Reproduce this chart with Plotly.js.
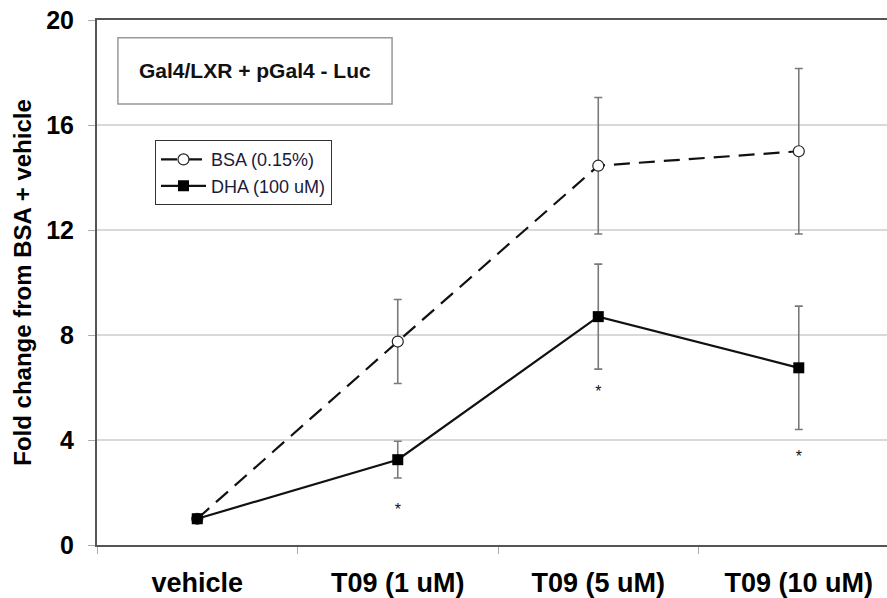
<!DOCTYPE html>
<html>
<head>
<meta charset="utf-8">
<script src="https://cdn.plot.ly/plotly-3.0.1.min.js"></script>
<style>html,body{margin:0;padding:0;background:#fff;}#chart{width:887px;height:598px;}</style>
</head>
<body>
<div id="chart"></div>
<script>
const categories = ["vehicle", "T09 (1 uM)", "T09 (5 uM)", "T09 (10 uM)"];
const bsaValues = [1.0, 7.75, 14.45, 15.0];
const bsaErrors = [0, 1.6, 2.6, 3.15];
const dhaValues = [1.0, 3.25, 8.7, 6.75];
const dhaErrors = [0, 0.7, 2.0, 2.35];
const sigY = [null, 1.3, 5.8, 3.3];
const sigText = ["", "*", "*", "*"];
const yTicks = [0, 4, 8, 12, 16, 20];

const FONT = "Arial, 'Liberation Sans', sans-serif";

const traces = [
  {
    x: categories, y: bsaValues, name: "BSA (0.15%)", type: "scatter", mode: "lines+markers",
    line: {color: "#111", width: 2.2, dash: "16px,9px"},
    marker: {symbol: "circle", size: 11, color: "#fff", line: {color: "#222", width: 1.2}},
    error_y: {type: "data", array: bsaErrors, visible: true, color: "#7a7a7a", thickness: 1.6, width: 4}
  },
  {
    x: categories, y: dhaValues, name: "DHA (100 uM)", type: "scatter", mode: "lines+markers",
    line: {color: "#111", width: 2.2},
    marker: {symbol: "square", size: 11, color: "#000"},
    error_y: {type: "data", array: dhaErrors, visible: true, color: "#7a7a7a", thickness: 1.6, width: 4}
  },
  {
    x: categories, y: sigY, text: sigText, type: "scatter", mode: "text", showlegend: false,
    textfont: {family: FONT, size: 16, color: "#111"}, hoverinfo: "skip"
  }
];

const layout = {
  width: 887, height: 598,
  margin: {l: 97, r: 0, t: 20, b: 53},
  paper_bgcolor: "#fff", plot_bgcolor: "#fff",
  font: {family: FONT, color: "#111"},
  showlegend: true,
  legend: {
    x: 0.0734, y: 0.771, xanchor: "left", yanchor: "top",
    bgcolor: "#fff", bordercolor: "#333", borderwidth: 1,
    font: {family: FONT, size: 18, color: "#1a1a3a"},
    tracegroupgap: 0, itemwidth: 45
  },
  xaxis: {
    type: "category", range: [-0.5, 3.44],
    showgrid: false, showline: true, linecolor: "#555", linewidth: 2, mirror: true,
    ticks: "outside", tickson: "boundaries", ticklen: 7, tickcolor: "#aaa",
    ticklabelstandoff: 13,
    tickfont: {family: FONT, size: 27, color: "#000", weight: "bold"},
    zeroline: false, fixedrange: true
  },
  yaxis: {
    range: [0, 20], tickvals: yTicks, ticktext: yTicks.map(String),
    showgrid: true, gridcolor: "#d9d9d9", gridwidth: 1.5,
    showline: true, linecolor: "#555", linewidth: 2,
    ticks: "outside", ticklen: 7, tickcolor: "#aaa",
    ticklabelstandoff: 9,
    tickfont: {family: FONT, size: 25, color: "#000", weight: "bold"},
    title: {text: "Fold change from BSA + vehicle", font: {family: FONT, size: 24, color: "#000", weight: "bold"}, standoff: 8},
    zeroline: false, fixedrange: true
  },
  shapes: [
    {type: "rect", xref: "paper", yref: "paper", x0: 0.0265, x1: 0.3735, y0: 0.84, y1: 0.966,
     line: {color: "#999", width: 1.5}, fillcolor: "#fff", layer: "above"}
  ],
  annotations: [
    {xref: "paper", yref: "paper", x: 0.2, y: 0.903, text: "Gal4/LXR + pGal4 - Luc", showarrow: false,
     font: {family: FONT, size: 21, color: "#111", weight: "bold"}, xanchor: "center", yanchor: "middle"}
  ]
};

Plotly.newPlot("chart", traces, layout, {displayModeBar: false, staticPlot: true});
</script>
</body>
</html>
